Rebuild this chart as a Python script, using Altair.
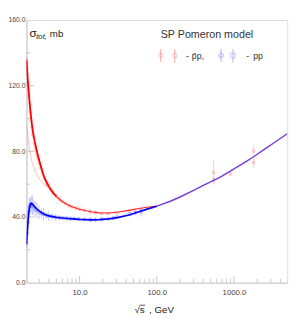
import altair as alt
import pandas as pd

# ---- model curves (sqrt(s) in GeV, sigma_tot in mb) ----
red_s = [2.05, 2.08, 2.12, 2.17, 2.23, 2.3, 2.4, 2.5, 2.62, 2.75, 2.9, 3.1, 3.3, 3.5, 3.75, 4.0, 4.5, 5, 6, 7, 8, 10, 14, 18, 24, 32, 45, 56, 75, 100]
red_v = [136, 131, 125, 119, 112, 105, 97, 91, 86, 81.5, 77, 72, 67.5, 64, 61, 58.5, 55, 52.5, 49.3, 47.5, 46.3, 44.7, 43.2, 42.5, 42.4, 43.0, 44.2, 45.0, 45.9, 46.7]

red2_s = [2.05, 2.2, 2.4, 2.7, 3.0, 3.5, 4.0, 4.5]
red2_v = [96, 84, 74, 67, 63, 59.5, 57, 54.7]

blue_s = [2.05, 2.1, 2.15, 2.2, 2.27, 2.35, 2.45, 2.6, 2.8, 3.0, 3.3, 3.6, 4.0, 4.5, 5.0, 6, 7, 8, 10, 14, 18, 24, 32, 45, 56, 75, 100]
blue_v = [23.5, 31, 38, 43.5, 47, 48.3, 47.8, 46.4, 44.8, 43.6, 42.3, 41.4, 40.7, 40.2, 39.8, 39.4, 39.1, 38.9, 38.6, 38.3, 38.4, 38.9, 39.8, 41.4, 42.9, 44.8, 46.6]

both_s = [100, 150, 200, 300, 400, 546, 700, 1000, 1400, 1800, 2500, 3500, 4900]
both_v = [46.6, 49.6, 52.2, 56.2, 59.3, 62.3, 64.9, 69.3, 73.5, 76.7, 81.3, 86.0, 90.7]

# ---- data points ----
pbp_s = [2.06, 2.08, 2.1, 2.13, 2.16, 2.2, 2.25, 2.3, 2.36, 2.42, 2.5, 2.6, 2.7, 2.8, 2.9, 3.0, 3.15, 3.3, 3.5, 3.7, 3.9, 4.2, 4.5, 5.0, 5.5, 6.0, 6.6, 7.3, 8.0, 9.0, 10.0, 11.5, 13.7, 16, 19.4, 23.5, 30.4, 44.7, 52.6, 62.3, 546, 546, 900, 1800, 1800]
pbp_v = [134, 130, 127, 122, 118, 114, 109, 104, 99, 95, 90, 85, 81, 78, 75.5, 73, 70, 67, 63.5, 61, 59.5, 57, 55, 52.5, 50.8, 49.5, 48.2, 47, 46.2, 45.5, 44.8, 44, 43.2, 42.7, 42.3, 42.1, 42.6, 43.5, 44.0, 43.9, 67, 62.7, 66.3, 80.2, 73.2]
pbp_e = [4, 5, 4, 3, 4, 3, 3, 4, 3, 3, 2, 3, 2, 2, 2, 2, 2, 2, 1.5, 2, 1.5, 1.5, 1.5, 1.2, 1, 1, 1, 1, 1, 1, 1, 0.8, 1.5, 1, 1, 0.8, 0.6, 1, 1, 1.5, 7.5, 1.5, 1.2, 3, 3]

pp_s = [2.06, 2.1, 2.15, 2.2, 2.25, 2.3, 2.37, 2.45, 2.55, 2.65, 2.8, 3.0, 3.2, 3.4, 3.7, 4.0, 4.4, 4.9, 5.5, 6.1, 6.8, 7.6, 8.5, 9.7, 11.5, 13.8, 16, 19.4, 23.5, 27.4, 30.6, 44.7, 52.8, 62.7]
pp_v = [24, 30, 37, 43, 46, 47.5, 48, 47, 46, 45, 44, 43, 42.3, 41.8, 41, 40.5, 40.2, 39.8, 39.5, 39.3, 39.2, 39.0, 39.0, 38.8, 38.5, 38.4, 38.3, 38.6, 38.9, 39.3, 40.0, 41.7, 42.4, 43.3]
pp_e = [3, 4, 5, 5, 6, 4, 5, 6, 4, 5, 5, 4, 3, 4, 2, 3, 2, 2, 1.5, 1, 1.5, 1, 1, 1, 0.8, 1.5, 1, 1, 0.5, 1, 0.5, 0.5, 0.5, 3]

# ---- axis ticks ----
x_major = [10, 100, 1000]
x_minor = [3, 4, 5, 6, 7, 8, 9, 20, 30, 40, 50, 60, 70, 80, 90, 200, 300, 400, 500, 600, 700, 800, 900, 2000, 3000, 4000]
y_labels = [0, 40, 80, 120, 160]
y_major = [40, 80, 120]
y_minor = [20, 60, 100, 140]

W, H = 268, 270
FONT = "Liberation Sans"
GREY = "#c8c8c8"

xs = alt.Scale(type="log", domain=[2.05, 4900])
ys = alt.Scale(domain=[0, 160])

def line_df(s, v):
    return pd.DataFrame({"s": s, "v": v})

def pts_df(s, v, e):
    d = pd.DataFrame({"s": s, "v": v, "e": e})
    d["lo"] = d["v"] - d["e"]
    d["hi"] = d["v"] + d["e"]
    d["k"] = [i % 2 for i in range(len(d))]
    return d

pbp = pts_df(pbp_s, pbp_v, pbp_e)
pp = pts_df(pp_s, pp_v, pp_e)

X = alt.X("s:Q", scale=xs, axis=alt.Axis(values=x_major, format=".1f", ticks=False, grid=False,
                                          domainColor=GREY, labelFont=FONT, labelFontSize=8,
                                          labelColor="#444", labelPadding=6, labelFlush=False, title=None))
Y = alt.Y("v:Q", scale=ys, axis=alt.Axis(values=y_labels, format=".1f", ticks=False, grid=False,
                                         domainColor=GREY, labelFont=FONT, labelFontSize=7,
                                         labelColor="#444", labelPadding=1.5, title=None))

def XE():
    return alt.X("s:Q", scale=xs)

def YE(f="v:Q"):
    return alt.Y(f, scale=ys)

axes_layer = alt.Chart(line_df(both_s, both_v)).mark_line(opacity=0).encode(x=X, y=Y)

def errbars(d, color):
    return alt.Chart(d).mark_rule(color=color, strokeWidth=0.8, opacity=0.45, clip=True).encode(
        x=XE(), y=YE("lo:Q"), y2="hi:Q")

def markers(d, color, shape0, shape1, angle0):
    a = alt.Chart(d[d.k == 0]).mark_point(shape=shape0, angle=angle0, size=10, color=color,
                                          strokeWidth=0.6, opacity=0.55, filled=False, clip=True).encode(
        x=XE(), y=YE())
    b = alt.Chart(d[d.k == 1]).mark_point(shape=shape1, size=9, color=color,
                                          strokeWidth=0.6, opacity=0.55, filled=False, clip=True).encode(
        x=XE(), y=YE())
    return a + b

red_df = line_df(red_s, red_v)
red_line_a = alt.Chart(red_df[red_df.s <= 5]).mark_line(color="#ff0000", strokeWidth=1.8, clip=True).encode(x=XE(), y=YE())
red_line_b = alt.Chart(red_df[red_df.s >= 5]).mark_line(color="#ff2020", strokeWidth=1.1, clip=True).encode(x=XE(), y=YE())
red2_line = alt.Chart(line_df(red2_s, red2_v)).mark_line(color="#ff6060", strokeWidth=0.7, opacity=0.6, clip=True).encode(x=XE(), y=YE())
blue_line = alt.Chart(line_df(blue_s, blue_v)).mark_line(color="#0000ff", strokeWidth=1.7, clip=True).encode(x=XE(), y=YE())
both_line = alt.Chart(line_df(both_s, both_v)).mark_line(color="#7a3ed8", strokeWidth=1.5, clip=True).encode(x=XE(), y=YE())

# ticks drawn inward
xt_major = alt.Chart(pd.DataFrame({"t": x_major})).mark_rule(color=GREY, strokeWidth=1).encode(
    x=alt.X("t:Q", scale=xs), y=alt.value(H), y2=alt.value(H - 7))
xt_minor = alt.Chart(pd.DataFrame({"t": x_minor})).mark_rule(color=GREY, strokeWidth=1).encode(
    x=alt.X("t:Q", scale=xs), y=alt.value(H), y2=alt.value(H - 4))
yt_major = alt.Chart(pd.DataFrame({"t": y_major})).mark_rule(color=GREY, strokeWidth=1).encode(
    y=alt.Y("t:Q", scale=ys), x=alt.value(0), x2=alt.value(8))
yt_minor = alt.Chart(pd.DataFrame({"t": y_minor})).mark_rule(color=GREY, strokeWidth=1).encode(
    y=alt.Y("t:Q", scale=ys), x=alt.value(0), x2=alt.value(4))

one = pd.DataFrame({"a": [0]})

def txt(text, x, y, size, color="#222", style="normal", align="left"):
    return alt.Chart(one).mark_text(text=text, font=FONT, fontSize=size, color=color, fontStyle=style,
                                    align=align, baseline="alphabetic").encode(x=alt.value(x), y=alt.value(y))

def sym(shape, x, y, color, angle=0, size=22):
    return alt.Chart(one).mark_point(shape=shape, angle=angle, size=size, color=color, filled=False,
                                     strokeWidth=0.8).encode(x=alt.value(x), y=alt.value(y))

def vbar(x, y1, y2, color):
    return alt.Chart(one).mark_rule(color=color, strokeWidth=0.8).encode(x=alt.value(x), y=alt.value(y1), y2=alt.value(y2))

LR = "#ff8a8a"
LB = "#9a9aff"
deco = (
    txt("σ", 3, 17, 12, "#222")
    + txt("tot,", 10, 20, 8, "#222", "italic")
    + txt("mb", 24, 17, 10, "#222")
    + txt("SP Pomeron model", 138, 19, 11, "#333")
    + vbar(138, 30, 43, LR) + sym("cross", 138, 36.5, LR, angle=45)
    + vbar(152.5, 30, 44, LR) + sym("circle", 152.5, 36.5, LR)
    + txt("-", 164, 40, 9, "#333")
    + txt("p̄p,", 170, 40, 9, "#333")
    + vbar(200, 30, 43, LB) + sym("cross", 200, 36.5, LB, size=26)
    + vbar(212.3, 30, 44, LB) + sym("square", 212.3, 36.5, LB)
    + txt("-", 226, 40, 9, "#333")
    + txt("pp", 233, 40, 9, "#333")
    + txt("√s", 111, 301, 10, "#222")
    + alt.Chart(one).mark_rule(color="#222", strokeWidth=0.8).encode(x=alt.value(116.5), x2=alt.value(122), y=alt.value(293.2))
    + txt(",  GeV", 126, 301, 10, "#222")
)

chart = alt.layer(
    axes_layer,
    xt_major, xt_minor, yt_major, yt_minor,
    errbars(pbp, "#ff6060"), errbars(pp, "#6060ff"),
    markers(pbp, "#ff5050", "cross", "circle", 45), markers(pp, "#5050ff", "cross", "square", 0),
    red2_line, red_line_a, red_line_b, blue_line, both_line,
    deco,
).properties(
    width=W, height=H,
    autosize=alt.AutoSizeParams(type="none"),
    padding={"left": 19, "top": 8, "right": 8, "bottom": 33},
).configure_view(stroke=GREY, strokeWidth=1).configure(background="white")

chart.save("out.html", embed_options={"renderer": "svg", "actions": False})
